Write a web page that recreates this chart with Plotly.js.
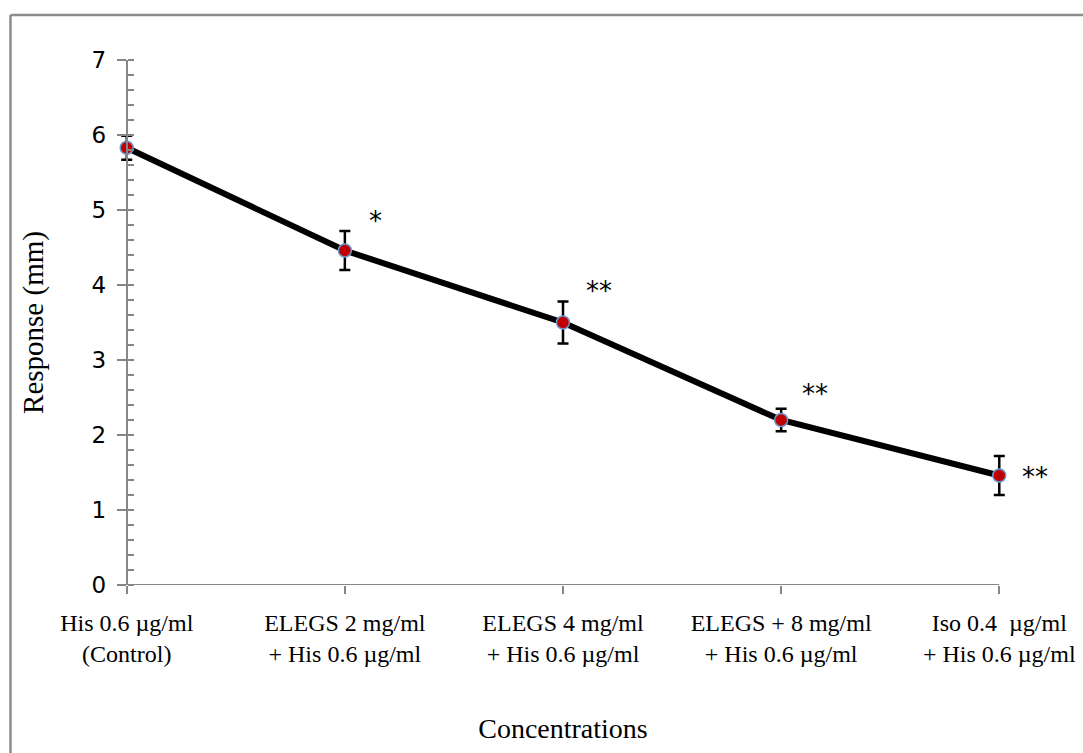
<!DOCTYPE html>
<html>
<head>
<meta charset="utf-8">
<script src="https://cdn.plot.ly/plotly-3.0.1.min.js"></script>
<style>
  html, body { margin: 0; padding: 0; background: #ffffff; }
  #chart { width: 1083px; height: 753px; }
</style>
</head>
<body>
<div id="chart"></div>
<script>
// ---- Data ----
const categories = [
  "His 0.6 µg/ml<br>(Control)",
  "ELEGS 2 mg/ml<br>+ His 0.6 µg/ml",
  "ELEGS 4 mg/ml<br>+ His 0.6 µg/ml",
  "ELEGS + 8 mg/ml<br>+ His 0.6 µg/ml",
  "Iso 0.4  µg/ml<br>+ His 0.6 µg/ml"
];
const categoryIndex = [0, 1, 2, 3, 4];
const responses = [5.83, 4.46, 3.50, 2.20, 1.46];
const errors = [0.16, 0.26, 0.28, 0.15, 0.26];
const significance = ["", "*", "**", "**", "**"];
const yTickVals = [0, 1, 2, 3, 4, 5, 6, 7];
const xTitle = "Concentrations";
const yTitle = "Response (mm)";

// ---- Styles ----
const sigShiftX = [0, 31, 36, 34, 36];
const sigShiftY = [0, 30, 32, 26, -1];
const pad = 0.04;                       // room so end error bars are not clipped
const xMin = categoryIndex[0], xMax = categoryIndex[categoryIndex.length - 1];
const yMin = yTickVals[0], yMax = yTickVals[yTickVals.length - 1];
const axisGray = "#868686";

const trace = {
  x: categoryIndex,
  y: responses,
  type: "scatter",
  mode: "lines+markers",
  cliponaxis: false,
  line: { color: "#000000", width: 6 },
  marker: { color: "#C00000", size: 13, line: { color: "#6A9BD1", width: 1.5 } },
  error_y: { type: "data", array: errors, visible: true, color: "#000000", thickness: 2.5, width: 5.5 },
  hoverinfo: "skip"
};

const annotations = [];
categoryIndex.forEach((xi, i) => {
  if (!significance[i]) return;
  annotations.push({
    x: xi, y: responses[i], xref: "x", yref: "y",
    text: significance[i], showarrow: false,
    xshift: sigShiftX[i], yshift: sigShiftY[i],
    xanchor: "center", yanchor: "middle",
    font: { family: "DejaVu Sans", size: 26, color: "#000000" }
  });
});

const span = (xMax - xMin) + 2 * pad;
const layout = {
  width: 1083, height: 753,
  margin: { l: 118, r: 75, t: 60, b: 168 },
  paper_bgcolor: "#ffffff", plot_bgcolor: "#ffffff",
  showlegend: false,
  xaxis: {
    range: [xMin - pad, xMax + pad], tickmode: "array", tickvals: categoryIndex, ticktext: categories,
    ticks: "outside", ticklen: 8, tickwidth: 2, tickcolor: axisGray,
    showline: false,
    showgrid: false, zeroline: false,
    tickfont: { family: "Liberation Serif", size: 24, color: "#000000" },
    ticklabelstandoff: 8,
    title: { text: xTitle, font: { family: "Liberation Serif", size: 28, color: "#000000" }, standoff: 52 }
  },
  yaxis: {
    range: [yMin, yMax], tickmode: "array", tickvals: yTickVals,
    anchor: "free", position: pad / span,
    ticks: "outside", ticklen: 9, tickwidth: 2, tickcolor: axisGray,
    minor: { dtick: 0.2, ticks: "inside", ticklen: 6, tickwidth: 2, tickcolor: axisGray, showgrid: false },
    showline: true, linecolor: axisGray, linewidth: 2,
    showgrid: false, zeroline: false,
    tickfont: { family: "DejaVu Sans", size: 23, color: "#000000" },
    ticklabelstandoff: 6,
    title: { text: yTitle, font: { family: "Liberation Serif", size: 29, color: "#000000" }, standoff: 38 }
  },
  annotations: annotations,
  shapes: [
    // x axis line from first to last category
    { type: "line", xref: "x", yref: "y", x0: xMin, x1: xMax, y0: yMin, y1: yMin,
      line: { color: axisGray, width: 2 }, layer: "below" },
    // outer chart border (top and left visible)
    { type: "line", xref: "paper", yref: "paper", x0: -0.1208, x1: 1.2, y0: 1.0857, y1: 1.0857,
      line: { color: "#8C8C8C", width: 2.5 } },
    { type: "line", xref: "paper", yref: "paper", x0: -0.1208, x1: -0.1208, y0: 1.0857, y1: -0.5,
      line: { color: "#8C8C8C", width: 2.5 } }
  ]
};

Plotly.newPlot("chart", [trace], layout, { staticPlot: true, displayModeBar: false });
</script>
</body>
</html>
